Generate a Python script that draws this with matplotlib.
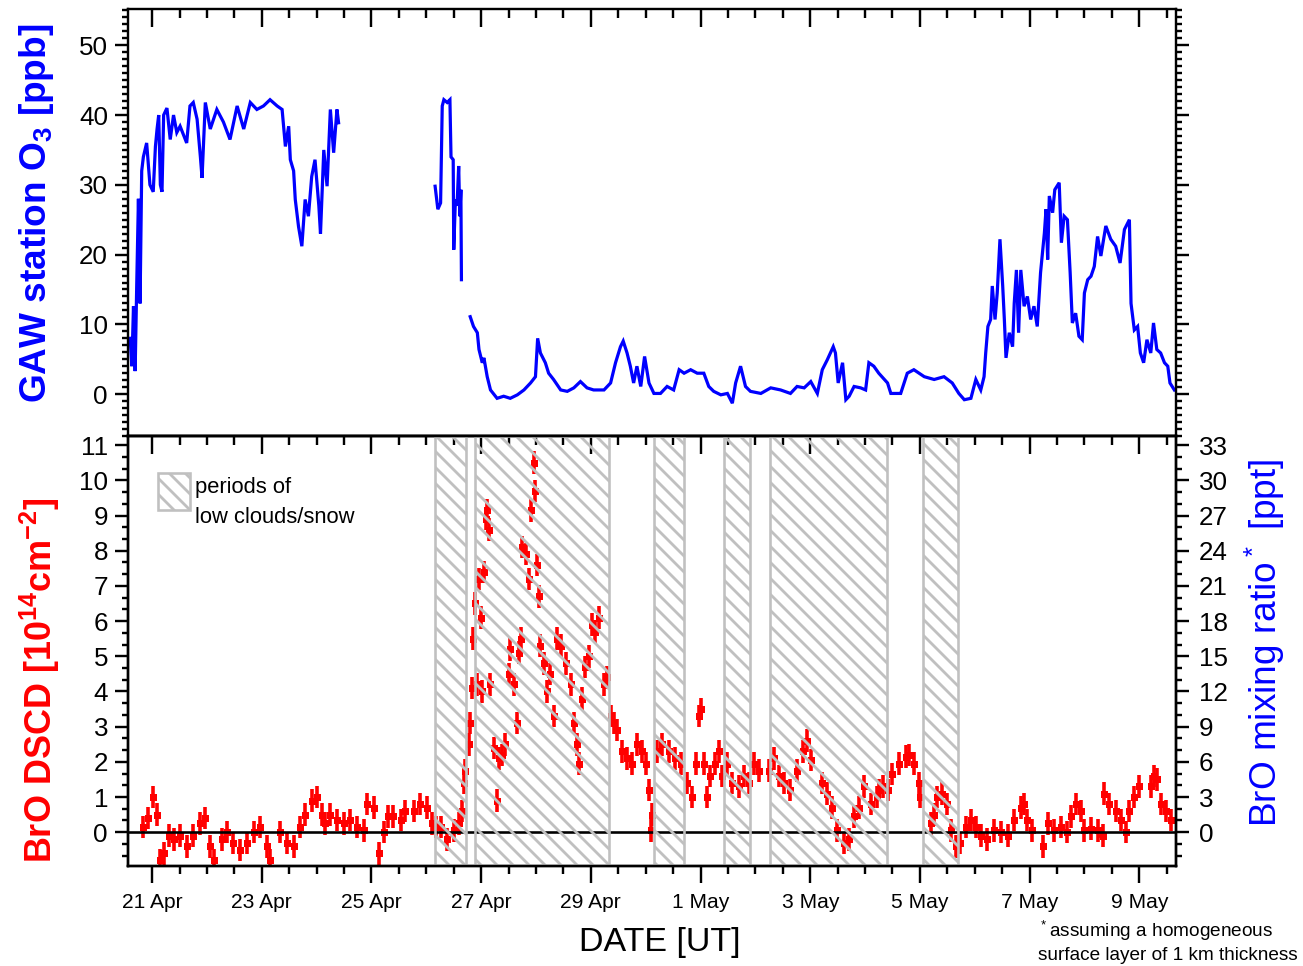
"""O3 at the GAW station and BrO DSCD, 21 Apr - 9 May (two stacked panels)."""
import matplotlib
matplotlib.use("Agg")
import matplotlib.pyplot as plt
from matplotlib.patches import Rectangle
from matplotlib.ticker import MultipleLocator, NullFormatter, FixedLocator, FixedFormatter

# time axis: day of April (1 May = 31)
DAY_TICKS = [21, 23, 25, 27, 29, 31, 33, 35, 37, 39]
DAY_LABELS = ["21 Apr", "23 Apr", "25 Apr", "27 Apr", "29 Apr",
              "1 May", "3 May", "5 May", "7 May", "9 May"]

# GAW station ozone [ppb], three segments (gaps in the record)
o3_day_a = [20.60, 20.63, 20.66, 20.69, 20.72, 20.75, 20.78, 20.81, 20.84, 20.90,
            20.96, 21.02, 21.06, 21.09, 21.12, 21.15, 21.18, 21.21, 21.27, 21.33,
            21.39, 21.45, 21.51, 21.63, 21.69, 21.75, 21.82, 21.88, 21.91, 21.97,
            22.06, 22.18, 22.30, 22.42, 22.55, 22.67, 22.79, 22.91, 23.03, 23.15,
            23.28, 23.37, 23.43, 23.49, 23.52, 23.58, 23.61, 23.67, 23.73, 23.79,
            23.85, 23.91, 23.97, 24.04, 24.07, 24.13, 24.19, 24.25, 24.31, 24.37,
            24.40]
o3_a = [8.0, 4.0, 12.6, 3.3, 16.0, 28.0, 13.0, 32.0, 34.0, 36.0,
        30.0, 29.0, 35.5, 38.0, 40.0, 30.0, 29.0, 40.0, 41.0, 36.5,
        40.0, 37.5, 38.4, 36.0, 41.3, 41.8, 39.4, 34.0, 31.0, 41.8,
        38.0, 40.8, 39.0, 36.5, 41.3, 38.0, 41.8, 40.8, 41.3, 42.2,
        41.3, 40.8, 35.5, 38.4, 33.6, 32.0, 27.9, 24.0, 21.2, 27.9,
        25.5, 31.2, 33.6, 27.0, 23.0, 35.0, 29.8, 40.8, 34.6, 40.8,
        38.9]

o3_day_b = [26.16, 26.21, 26.26, 26.29, 26.32, 26.38, 26.43, 26.45, 26.49, 26.50,
            26.53, 26.56, 26.59, 26.61, 26.63, 26.64]
o3_b = [29.8, 26.5, 27.4, 41.3, 42.2, 41.8, 42.2, 34.0, 33.6, 20.7,
        27.9, 27.0, 32.7, 25.5, 29.3, 16.4]

o3_day_c = [26.80, 26.86, 26.93, 26.96, 27.02, 27.05, 27.11, 27.17, 27.29, 27.41,
            27.53, 27.66, 27.78, 27.90, 27.99, 28.03, 28.08, 28.17, 28.23, 28.32,
            28.45, 28.57, 28.69, 28.81, 28.93, 29.05, 29.24, 29.36, 29.45, 29.54,
            29.59, 29.66, 29.72, 29.78, 29.84, 29.91, 29.98, 30.06, 30.15, 30.27,
            30.39, 30.51, 30.61, 30.70, 30.82, 30.94, 31.06, 31.15, 31.24, 31.37,
            31.49, 31.58, 31.64, 31.73, 31.82, 31.91, 32.10, 32.28, 32.46, 32.64,
            32.76, 32.89, 33.01, 33.13, 33.22, 33.31, 33.42, 33.46, 33.51, 33.59,
            33.65, 33.71, 33.80, 33.92, 34.01, 34.07, 34.16, 34.25, 34.41, 34.47,
            34.65, 34.77, 34.89, 35.08, 35.26, 35.44, 35.59, 35.71, 35.81, 35.93,
            36.02, 36.11, 36.17, 36.20, 36.24, 36.29, 36.32, 36.37, 36.41, 36.46,
            36.51, 36.54, 36.57, 36.63, 36.69, 36.72, 36.76, 36.80, 36.84, 36.90,
            36.96, 37.02, 37.08, 37.14, 37.20, 37.27, 37.30, 37.33, 37.36, 37.42,
            37.46, 37.54, 37.58, 37.63, 37.69, 37.74, 37.78, 37.84, 37.90, 37.96,
            38.00, 38.06, 38.12, 38.18, 38.24, 38.30, 38.39, 38.48, 38.57, 38.65,
            38.73, 38.82, 38.85, 38.91, 38.97, 39.02, 39.08, 39.14, 39.21, 39.26,
            39.32, 39.39, 39.46, 39.52, 39.56, 39.64]
o3_c = [11.1, 9.7, 8.8, 6.4, 4.5, 5.2, 2.5, 0.6, -0.6, -0.3,
        -0.6, -0.1, 0.6, 1.6, 2.5, 8.0, 5.9, 4.5, 3.0, 2.1,
        0.6, 0.4, 0.9, 1.8, 0.9, 0.6, 0.6, 1.6, 4.5, 6.8,
        7.6, 5.9, 4.0, 1.6, 4.0, 1.1, 5.4, 1.6, 0.1, 0.1,
        1.1, 0.6, 3.5, 3.0, 3.5, 3.0, 3.0, 1.1, 0.4, -0.1,
        0.1, -1.3, 1.6, 4.0, 1.1, 0.4, 0.1, 0.9, 0.6, 0.1,
        1.1, 0.9, 1.8, 0.1, 3.5, 4.9, 6.8, 5.9, 1.6, 4.5,
        -0.8, -0.3, 1.1, 0.9, 0.6, 4.5, 4.0, 3.0, 1.6, 0.1,
        0.1, 3.0, 3.5, 2.5, 2.1, 2.5, 1.6, 0.1, -0.8, -0.6,
        2.1, 0.6, 2.5, 5.9, 9.7, 10.7, 15.5, 10.7, 14.5, 22.2,
        15.5, 10.7, 5.2, 8.8, 6.8, 13.0, 17.8, 8.8, 17.8, 12.6,
        14.0, 10.7, 12.6, 9.7, 17.4, 23.1, 26.5, 19.3, 28.4, 26.0,
        29.3, 30.3, 21.7, 25.5, 25.0, 17.4, 10.2, 11.6, 8.3, 7.8,
        14.5, 16.4, 16.9, 18.3, 22.6, 19.8, 24.1, 22.2, 21.2, 18.8,
        23.6, 25.0, 13.0, 9.2, 9.7, 5.9, 4.5, 7.8, 5.9, 10.2,
        6.4, 5.9, 4.5, 4.0, 1.6, 0.6]

# BrO DSCD [1e14 molec cm-2]
bro_day = [20.84, 20.93, 21.02, 21.09, 21.15, 21.21, 21.30, 21.39, 21.51, 21.63,
           21.75, 21.88, 21.97, 22.06, 22.12, 22.27, 22.36, 22.48, 22.61, 22.73,
           22.85, 22.97, 23.09, 23.15, 23.34, 23.46, 23.58, 23.70, 23.79, 23.91,
           24.00, 24.10, 24.16, 24.25, 24.37, 24.49, 24.61, 24.73, 24.86, 24.92,
           25.04, 25.13, 25.22, 25.31, 25.40, 25.53, 25.62, 25.77, 25.89, 26.01,
           26.10, 26.18, 26.26, 26.38, 26.50, 26.59, 26.65, 26.68, 26.71, 26.77,
           26.80, 26.83, 26.86, 26.89, 26.93, 26.96, 26.99, 27.02, 27.05, 27.08,
           27.11, 27.14, 27.17, 27.23, 27.29, 27.32, 27.38, 27.44, 27.50, 27.53,
           27.59, 27.66, 27.69, 27.72, 27.75, 27.81, 27.87, 27.90, 27.96, 27.99,
           28.02, 28.05, 28.08, 28.14, 28.20, 28.26, 28.32, 28.39, 28.45, 28.54,
           28.63, 28.69, 28.75, 28.78, 28.84, 28.90, 28.96, 29.02, 29.08, 29.15,
           29.24, 29.30, 29.36, 29.42, 29.48, 29.57, 29.66, 29.75, 29.84, 29.94,
           30.00, 30.06, 30.09, 30.12, 30.21, 30.30, 30.42, 30.54, 30.64, 30.76,
           30.85, 30.91, 30.97, 31.01, 31.06, 31.11, 31.18, 31.27, 31.33, 31.40,
           31.49, 31.58, 31.70, 31.79, 31.88, 31.97, 32.07, 32.25, 32.34, 32.43,
           32.52, 32.64, 32.76, 32.86, 32.95, 33.01, 33.22, 33.31, 33.40, 33.49,
           33.62, 33.71, 33.80, 33.89, 33.98, 34.10, 34.22, 34.25, 34.32, 34.41,
           34.50, 34.62, 34.74, 34.80, 34.89, 34.98, 35.01, 35.20, 35.26, 35.32,
           35.41, 35.50, 35.56, 35.65, 35.74, 35.84, 35.93, 36.02, 36.12, 36.23,
           36.35, 36.47, 36.60, 36.72, 36.84, 36.90, 36.96, 37.05, 37.24, 37.33,
           37.45, 37.57, 37.69, 37.75, 37.84, 37.93, 38.00, 38.12, 38.24, 38.33,
           38.36, 38.45, 38.57, 38.66, 38.76, 38.82, 38.91, 39.00, 39.21, 39.27,
           39.33, 39.39, 39.49, 39.58]
bro = [0.15, 0.4, 1.0, 0.5, -0.8, -0.6, -0.1, -0.2, -0.1, -0.4,
       -0.1, 0.25, 0.4, -0.4, -0.8, -0.2, 0.0, -0.3, -0.5, -0.3,
       0.0, 0.15, -0.4, -0.8, 0.0, -0.3, -0.4, 0.15, 0.5, 0.9,
       1.0, 0.5, 0.25, 0.5, 0.35, 0.25, 0.35, 0.15, 0.05, 0.8,
       0.7, -0.6, 0.0, 0.45, 0.45, 0.35, 0.6, 0.6, 0.8, 0.7,
       0.25, 0.15, 0.15, -0.2, 0.05, 0.25, 0.6, 1.4, 1.75, 2.5,
       3.1, 4.1, 5.5, 6.5, 4.2, 7.2, 6.1, 4.0, 7.4, 8.9,
       9.15, 8.6, 4.2, 2.4, 0.9, 2.1, 2.2, 2.5, 4.5, 5.2,
       4.2, 3.1, 5.1, 5.5, 8.1, 7.9, 7.2, 9.15, 10.5, 9.7,
       7.6, 6.7, 5.3, 4.8, 4.0, 4.5, 3.3, 5.5, 5.3, 4.8,
       4.2, 3.1, 2.5, 1.95, 3.8, 4.7, 5.0, 5.9, 5.7, 6.1,
       4.2, 4.4, 3.3, 3.1, 2.9, 2.3, 2.1, 1.95, 2.5, 2.3,
       1.95, 1.2, 0.05, 0.5, 2.3, 2.5, 2.3, 2.1, 1.95, 1.4,
       1.0, 1.95, 3.3, 3.5, 1.95, 1.0, 1.6, 1.95, 2.3, 1.6,
       1.95, 1.4, 1.3, 1.6, 1.4, 1.95, 1.75, 1.75, 2.1, 1.6,
       1.4, 1.2, 1.75, 2.3, 2.6, 2.05, 1.4, 1.1, 0.7, 0.05,
       -0.3, -0.2, 0.45, 0.7, 1.3, 0.8, 1.0, 1.2, 1.3, 1.2,
       1.65, 1.95, 2.15, 2.2, 1.95, 1.4, 1.0, 0.25, 0.5, 1.0,
       1.1, 0.8, 0.05, -0.4, -0.3, 0.15, 0.35, 0.15, -0.1, -0.2,
       0.05, 0.0, -0.1, 0.35, 0.7, 0.8, 0.35, 0.05, -0.4, 0.25,
       0.05, 0.15, 0.0, 0.45, 0.8, 0.6, 0.05, 0.1, 0.05, -0.1,
       1.1, 0.8, 0.6, 0.35, 0.0, 0.6, 1.0, 1.3, 1.3, 1.6,
       1.5, 0.8, 0.6, 0.35]
BRO_ERR = 0.32

# periods of low clouds / snow (day of April)
cloud_start = [26.16, 26.89, 30.16, 31.42, 32.26, 35.05]
cloud_end = [26.73, 29.34, 30.69, 31.91, 34.40, 35.69]

BLUE = "#0000ff"
RED = "#ff0000"
GREY = "#c0c0c0"
HATCH = "\\\\\\"

W, H, DPI = 1303, 966, 144
plt.rcParams["font.family"] = ["Liberation Sans", "DejaVu Sans"]
plt.rcParams["mathtext.default"] = "regular"
plt.rcParams["hatch.linewidth"] = 1.4
plt.rcParams["hatch.color"] = GREY
plt.rcParams["axes.linewidth"] = 1.2


def px(x0, y0, x1, y1):
    """pixel box (left, top, right, bottom) -> figure rect"""
    return [x0 / W, 1 - y1 / H, (x1 - x0) / W, (y1 - y0) / H]


def style_x(ax, labels):
    ax.set_xlim(20.56, 39.67)
    ax.xaxis.set_major_locator(FixedLocator(DAY_TICKS))
    ax.xaxis.set_minor_locator(MultipleLocator(0.5))
    if labels:
        ax.xaxis.set_major_formatter(FixedFormatter(DAY_LABELS))
    else:
        ax.xaxis.set_major_formatter(NullFormatter())


fig = plt.figure(figsize=(W / DPI, H / DPI), dpi=DPI, facecolor="white")

# ---- top panel: ozone
ax1 = fig.add_axes(px(128, 9, 1176, 436))
for d, v in [(o3_day_a, o3_a), (o3_day_b, o3_b), (o3_day_c, o3_c)]:
    ax1.plot(d, v, color=BLUE, lw=1.6, solid_joinstyle="miter")
style_x(ax1, False)
ax1.set_ylim(-6.0, 55.2)
ax1.yaxis.set_major_locator(MultipleLocator(10))
ax1.yaxis.set_minor_locator(MultipleLocator(1))
ax1.tick_params(axis="x", which="both", direction="in", top=True, bottom=False,
                labelbottom=False)
ax1.tick_params(axis="x", which="major", length=9, width=1.2)
ax1.tick_params(axis="x", which="minor", length=4.5, width=1.2)
ax1.tick_params(axis="y", which="both", direction="out", left=True, right=True,
                labelsize=13, pad=3.5)
ax1.tick_params(axis="y", which="major", length=6.5, width=1.2)
ax1.tick_params(axis="y", which="minor", length=3, width=1.2)

# ---- bottom panel: BrO
ax2 = fig.add_axes(px(128, 436, 1176, 866))
ax2.errorbar(bro_day, bro, yerr=BRO_ERR, xerr=0.055, fmt="s", ms=3.5, mew=0,
             color=RED, ecolor=RED, elinewidth=1.8, capsize=0, zorder=2)
ax2.axhline(0, color="black", lw=1.3, zorder=3)
for x0, x1 in zip(cloud_start, cloud_end):
    ax2.axvspan(x0, x1, facecolor="none", edgecolor=GREY, hatch=HATCH,
                lw=1.3, zorder=4)
style_x(ax2, True)
ax2.set_ylim(-0.96, 11.26)
ax2.yaxis.set_major_locator(MultipleLocator(1))
ax2.yaxis.set_minor_locator(MultipleLocator(1 / 3))
ax2.tick_params(axis="x", which="both", direction="out", bottom=True, labelsize=10.5,
                pad=5)
ax2.tick_params(axis="x", which="major", length=8.5, width=1.2)
ax2.tick_params(axis="x", which="minor", length=4, width=1.2)
ax2.tick_params(axis="y", which="both", direction="out", labelsize=13, pad=3.5)
ax2.tick_params(axis="y", which="major", length=6.5, width=1.2)
ax2.tick_params(axis="y", which="minor", length=3, width=1.2)

# inward ticks on the shared border (top of lower panel)
ax2t = ax2.secondary_xaxis("top")
ax2t.xaxis.set_major_locator(FixedLocator(DAY_TICKS))
ax2t.xaxis.set_minor_locator(MultipleLocator(0.5))
ax2t.xaxis.set_major_formatter(NullFormatter())
ax2t.tick_params(axis="x", which="both", direction="in")
ax2t.tick_params(axis="x", which="major", length=9, width=1.2)
ax2t.tick_params(axis="x", which="minor", length=4.5, width=1.2)

# right axis: mixing ratio (x3)
ax3 = ax2.twinx()
ax3.set_ylim(-0.96 * 3, 11.26 * 3)
ax3.yaxis.set_major_locator(MultipleLocator(3))
ax3.yaxis.set_minor_locator(MultipleLocator(1))
ax3.tick_params(axis="y", which="both", direction="out", labelsize=13, pad=5)
ax3.tick_params(axis="y", which="major", length=6.5, width=1.2)
ax3.tick_params(axis="y", which="minor", length=3, width=1.2)
for sp in ax3.spines.values():
    sp.set_linewidth(1.2)

# legend box for the hatched periods
ax2.add_patch(Rectangle((0.0286, 0.828), 0.0305, 0.086, transform=ax2.transAxes,
                        facecolor="none", edgecolor=GREY, hatch=HATCH, lw=1.3,
                        zorder=5))
ax2.text(0.064, 0.881, "periods of", transform=ax2.transAxes, fontsize=11,
         ha="left", va="center")
ax2.text(0.064, 0.811, "low clouds/snow", transform=ax2.transAxes, fontsize=11,
         ha="left", va="center")

# axis titles
fig.text(37 / W, 1 - 213 / H, "GAW station O$_3$ [ppb]", color=BLUE, fontsize=18.5,
         fontweight="bold", rotation=90, ha="center", va="center")
fig.text(40 / W, 1 - 680 / H, "BrO DSCD [10$^{14}$cm$^{-2}$]", color=RED,
         fontsize=18, fontweight="bold", rotation=90, ha="center", va="center")
fig.text(1265 / W, 1 - 643 / H, "BrO mixing ratio$^*$ [ppt]", color=BLUE,
         fontsize=18.5, rotation=90, ha="center", va="center")
fig.text(660 / W, 1 - 943 / H, "DATE [UT]", fontsize=17, ha="center", va="center")
fig.text(1038 / W, 1 - 931 / H, "$^*$assuming a homogeneous", fontsize=9.5,
         ha="left", va="center")
fig.text(1038 / W, 1 - 955 / H, "surface layer of 1 km thickness", fontsize=9.5,
         ha="left", va="center")

fig.savefig("out.png", dpi=DPI, facecolor="white")
